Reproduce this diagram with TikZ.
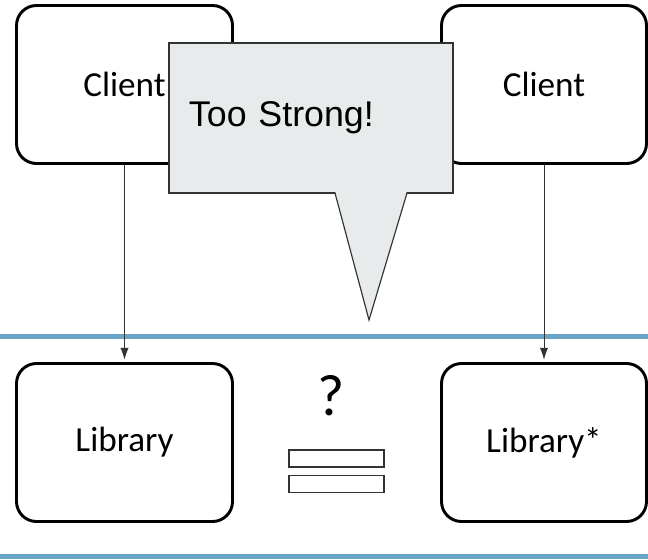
\documentclass[tikz,border=0pt]{standalone}
\usepackage{fontspec}
\setmainfont{Carlito}
\newfontfamily\arialfont{Liberation Sans}
\usepackage{tikz}
\usetikzlibrary{arrows.meta}
\definecolor{calloutgray}{HTML}{E8EBEC}
\definecolor{edgegray}{HTML}{333333}
\definecolor{layerblue}{HTML}{6AA5C8}
\tikzset{>={Latex[length=10pt,width=7pt]}}
\tikzstyle{module} = [draw,
                      line width=2.5pt,
                      rounded corners=0.6cm,
                      fill=white,
                      align=center,
                      font=\fontsize{30}{36}\selectfont]
\tikzstyle{arrow}  = [->,
                      draw=edgegray,
                      fill=edgegray,
                      line width=0.85pt,
                      shorten >=2pt]
\tikzstyle{layer}  = [draw=layerblue,
                      line width=5pt]
\tikzstyle{warnbox}= [draw=edgegray,
                      fill=calloutgray,
                      line width=1pt,
                      inner sep=0pt,
                      align=left,
                      font=\arialfont\fontsize{30.5}{36}\selectfont]
\tikzstyle{bar}    = [draw=edgegray,
                      line width=1.3pt,
                      minimum width=2.85cm,
                      inner sep=0pt]

\begin{document}
\begin{tikzpicture}[x=0.03cm,y=-0.03cm]
  \useasboundingbox (0,0) rectangle (648,559);

  % Layers
  \draw[layer] (0,336.5) -- (648,336.5);
  \draw[layer] (0,556.5) -- (648,556.5);

  % Nodes
  \node[module, minimum width=6.48cm, minimum height=4.74cm] (client1) at (124.5,84.5) {Client};
  \node[module, minimum width=6.15cm, minimum height=4.74cm] (client2) at (544,84.5) {Client};
  \node[module, minimum width=6.48cm, minimum height=4.74cm] (lib1) at (124.5,442.5) {Library};
  \node[module, minimum width=6.15cm, minimum height=4.74cm] (lib2) at (544,442.5) {Library*};

  \node[font=\fontsize{50}{60}\selectfont, inner sep=0pt] (query) at (331,396) {?};
  \node[bar, minimum height=0.51cm] (eq1) at (336.5,458.5) {};
  \node[bar, minimum height=0.52cm] (eq2) at (336.5,484) {};

  % Edges
  \draw[style=arrow] (client1.south) to (lib1.north);
  \draw[style=arrow] (client2.south) to (lib2.north);

  % Callout
  \node[warnbox, minimum width=8.52cm, minimum height=4.5cm,
    text width=7.32cm] (warn) at (311,118) {Too Strong!};
  \coordinate (tailL) at (335,193);
  \coordinate (tailR) at (407,193);
  \coordinate (tip) at (369,320);
  \fill[calloutgray] ([yshift=2pt]tailL) -- (tip) -- ([yshift=2pt]tailR) -- cycle;
  \draw[edgegray, line width=1pt, line join=miter] (tailL) -- (tip) -- (tailR);

\end{tikzpicture}
\end{document}
